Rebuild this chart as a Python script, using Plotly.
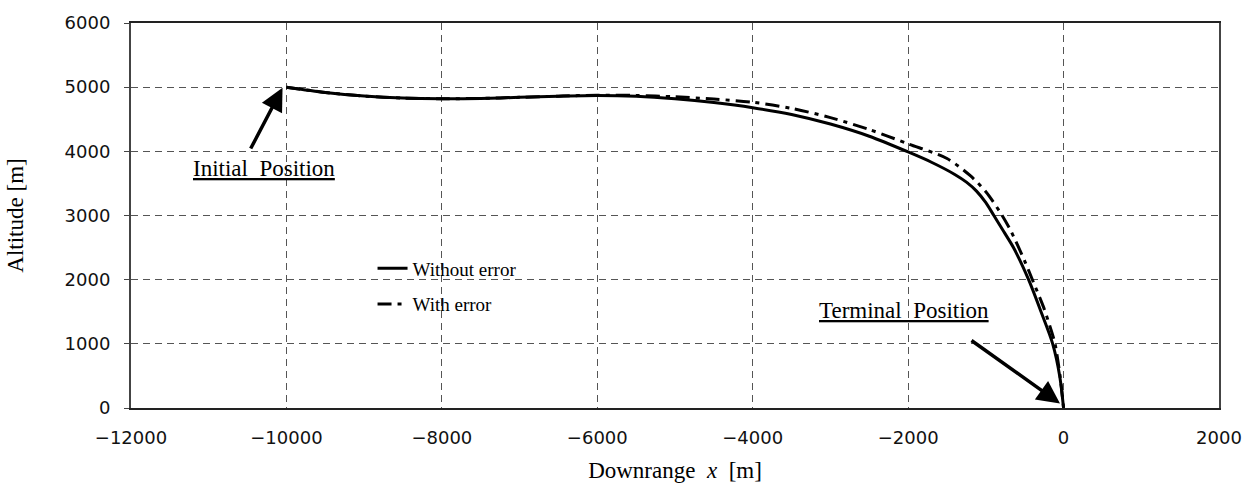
import plotly.graph_objects as go

# Trajectory without navigation error
x_without = [-10000, -9500, -9000, -8500, -8000, -7500, -7000, -6500, -6000, -5500, -5000,
             -4500, -4000, -3500, -3000, -2500, -2000, -1700, -1400, -1250, -1120, -1000,
             -897, -770, -645, -450, -290, -140, -50, 0]
y_without = [5000, 4918, 4862, 4830, 4820, 4825, 4842, 4860, 4872, 4860, 4820,
             4760, 4680, 4575, 4425, 4235, 3990, 3830, 3640, 3520, 3380, 3200,
             3000, 2750, 2500, 2000, 1500, 1000, 500, 0]

# Trajectory with navigation error
x_with = [-10000, -9500, -9000, -8500, -8000, -7500, -7000, -6500, -6000, -5500, -5000,
          -4500, -4000, -3500, -3000, -2500, -2000, -1500, -1200, -1000, -800, -682,
          -500, -386, -260, -167, -110, -45, 0]
y_with = [5000, 4918, 4862, 4830, 4820, 4825, 4842, 4860, 4875, 4872, 4850,
          4815, 4765, 4670, 4525, 4340, 4117, 3888, 3620, 3370, 3020, 2768,
          2290, 1954, 1580, 1241, 1000, 500, 0]

x_ticks = [-12000, -10000, -8000, -6000, -4000, -2000, 0, 2000]
x_ticktext = ["\u221212000", "\u221210000", "\u22128000", "\u22126000", "\u22124000", "\u22122000", "0", "2000"]
y_ticks = [0, 1000, 2000, 3000, 4000, 5000, 6000]
y_ticktext = ["0", "1000", "2000", "3000", "4000", "5000", "6000"]

serif = "Liberation Serif, Times New Roman, serif"
sans = "DejaVu Sans, Arial, sans-serif"

fig = go.Figure()
fig.add_trace(go.Scatter(
    x=x_without, y=y_without, mode="lines", name="Without error",
    legendgroup="a", legendrank=1,
    line=dict(color="black", width=3, shape="spline", smoothing=0.8)))
fig.add_trace(go.Scatter(
    x=x_with, y=y_with, mode="lines", name="With error",
    legendgroup="b", legendrank=2,
    line=dict(color="black", width=3, dash="14px,6px,4px,6px", shape="spline", smoothing=0.8)))

fig.add_annotation(x=-10050, y=4990, ax=-10470, ay=4020, axref="x", ayref="y",
                   showarrow=True, arrowhead=2, arrowsize=1.3, arrowwidth=3.5,
                   arrowcolor="black", text="")
fig.add_annotation(x=-46, y=70, ax=-1204, ay=1069, axref="x", ayref="y",
                   showarrow=True, arrowhead=2, arrowsize=1.3, arrowwidth=3.5,
                   arrowcolor="black", text="")
fig.add_annotation(x=-10289, y=3740, showarrow=False,
                   text="<u>Initial\u00a0\u00a0Position</u>",
                   font=dict(family=serif, size=23, color="black"))
fig.add_annotation(x=-2047, y=1520, showarrow=False,
                   text="<u>Terminal\u00a0\u00a0Position</u>",
                   font=dict(family=serif, size=23, color="black"))

fig.update_layout(
    width=1255, height=493,
    margin=dict(l=131, r=36, t=15, b=85),
    paper_bgcolor="white", plot_bgcolor="white",
    showlegend=True,
    legend=dict(x=0.222, y=0.412, xanchor="left", yanchor="top",
                bgcolor="rgba(0,0,0,0)", borderwidth=0,
                font=dict(family=serif, size=19, color="black"),
                traceorder="grouped", tracegroupgap=8),
    xaxis=dict(
        range=[-12000, 2000], tickvals=x_ticks, ticktext=x_ticktext,
        showgrid=True, gridcolor="#555", griddash="7px,5px", gridwidth=1,
        zeroline=False, showline=True, linecolor="#222", linewidth=2, mirror=True,
        ticks="", ticklabelstandoff=12,
        tickfont=dict(family=sans, size=18, color="#111"),
        title=dict(text="Downrange\u00a0\u00a0<i>x</i>\u00a0\u00a0[m]", standoff=15,
                   font=dict(family=serif, size=23, color="black")),
    ),
    yaxis=dict(
        range=[0, 6000], tickvals=y_ticks, ticktext=y_ticktext,
        showgrid=True, gridcolor="#555", griddash="7px,5px", gridwidth=1,
        zeroline=False, showline=True, linecolor="#444", linewidth=2, mirror=True,
        ticks="outside", ticklen=5, tickcolor="#444", ticklabelstandoff=10,
        tickfont=dict(family=sans, size=18, color="#111"),
        title=dict(text="Altitude\u00a0[m]", standoff=35,
                   font=dict(family=serif, size=23, color="black")),
    ),
)

fig.write_html("out.html")
